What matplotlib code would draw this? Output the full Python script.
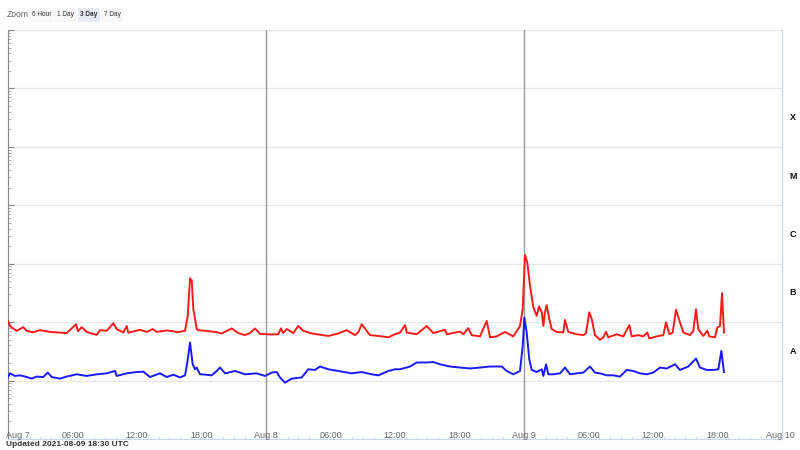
import matplotlib
matplotlib.use("Agg")
import matplotlib.pyplot as plt
from matplotlib.patches import FancyBboxPatch
import numpy as np

plt.rcParams['font.family'] = ['Liberation Sans', 'DejaVu Sans']

# Hours since 2021-08-07 00:00 UTC
red_hours = [0.0, 0.19, 0.81, 1.42, 1.74, 2.33, 2.98, 3.91, 5.46, 6.33, 6.51, 6.86, 7.32, 8.25, 8.56,
             9.18, 9.8, 10.11, 10.73, 11.04, 11.19, 12.28, 12.9, 13.46, 13.83, 14.76, 15.38, 15.69,
             16.47, 16.72, 16.93, 17.09, 17.24, 17.4, 17.55, 17.7, 19.26, 19.88, 20.81, 21.42, 22.05,
             22.51, 22.98, 23.44, 24.53, 25.12, 25.4, 25.58, 25.93, 26.54, 27.0, 27.47, 28.25, 29.8,
             30.72, 31.51, 32.28, 32.59, 32.9, 33.67, 34.45, 35.38, 36.0, 36.47, 36.93, 37.09, 38.02,
             38.95, 39.56, 40.65, 40.81, 42.05, 42.35, 42.82, 43.13, 43.91, 44.53, 44.84, 45.46, 46.23,
             47.0, 47.63, 47.88, 48.09, 48.3, 48.56, 48.87, 49.18, 49.4, 49.65, 49.8, 49.95, 50.11,
             50.35, 50.58, 51.04, 51.66, 51.81, 52.12, 52.9, 53.52, 53.77, 54.07, 54.3, 54.6, 55.07,
             55.38, 55.63, 55.84, 56.62, 57.24, 57.8, 58.02, 58.63, 59.1, 59.47, 59.66, 60.34, 60.96,
             61.21, 61.52, 61.83, 62.14, 62.51, 62.82, 63.44, 63.75, 64.0, 64.21, 64.68, 65.05, 65.24,
             65.77, 65.98, 66.23, 66.42, 66.6]
red_flux = [1.04e-7, 8.5e-8, 7.1e-8, 8.2e-8, 7.1e-8, 6.7e-8, 7.3e-8, 6.8e-8, 6.5e-8, 9.2e-8, 7.0e-8, 8.2e-8,
            6.8e-8, 6.05e-8, 7.3e-8, 7.1e-8, 9.6e-8, 7.6e-8, 6.65e-8, 8.6e-8, 6.6e-8, 7.4e-8, 6.8e-8,
            7.6e-8, 6.8e-8, 7.2e-8, 7.0e-8, 6.7e-8, 7.1e-8, 1.28e-7, 5.6e-7, 5.2e-7, 1.67e-7, 1.13e-7,
            7.6e-8, 7.3e-8, 6.8e-8, 6.4e-8, 7.8e-8, 6.5e-8, 6.0e-8, 6.5e-8, 7.8e-8, 6.3e-8, 6.15e-8,
            6.2e-8, 7.8e-8, 6.5e-8, 7.6e-8, 6.5e-8, 8.6e-8, 7.1e-8, 6.4e-8, 5.8e-8, 6.4e-8, 7.3e-8,
            6.0e-8, 6.7e-8, 9.2e-8, 6.0e-8, 5.8e-8, 5.5e-8, 6.2e-8, 6.65e-8, 8.9e-8, 6.65e-8, 6.2e-8,
            8.6e-8, 6.5e-8, 7.4e-8, 6.2e-8, 6.9e-8, 6.2e-8, 7.9e-8, 6.0e-8, 5.7e-8, 1.05e-7, 5.5e-8,
            5.7e-8, 6.8e-8, 5.7e-8, 8.6e-8, 1.67e-7, 1.41e-6, 1.06e-6, 4.2e-7, 1.79e-7, 1.28e-7,
            1.86e-7, 1.47e-7, 8.6e-8, 1.47e-7, 1.96e-7, 1.13e-7, 7.6e-8, 6.8e-8, 6.65e-8, 1.09e-7,
            6.8e-8, 6.2e-8, 6.0e-8, 6.5e-8, 1.47e-7, 1.13e-7, 6.0e-8, 5.0e-8, 5.5e-8, 6.8e-8, 5.5e-8,
            6.2e-8, 5.7e-8, 8.9e-8, 5.7e-8, 6.0e-8, 5.7e-8, 6.65e-8, 5.25e-8, 5.7e-8, 6.0e-8, 9.9e-8,
            6.2e-8, 6.65e-8, 1.63e-7, 9.9e-8, 6.65e-8, 6.0e-8, 7.1e-8, 1.67e-7, 7.6e-8, 5.8e-8,
            7.1e-8, 5.7e-8, 5.5e-8, 8.1e-8, 8.6e-8, 3.14e-7, 6.65e-8]

blue_hours = [0.0, 0.19, 0.65, 1.12, 1.74, 2.2, 2.67, 3.28, 3.69, 4.07, 4.84, 5.46, 6.39, 7.32, 8.25,
              9.18, 9.95, 10.11, 11.04, 11.97, 12.59, 13.21, 14.14, 14.76, 15.38, 16.0, 16.47, 16.68,
              16.93, 17.18, 17.4, 17.55, 17.86, 18.02, 18.95, 19.41, 19.72, 20.19, 21.12, 22.05, 23.13,
              23.91, 24.53, 25.0, 25.3, 25.77, 26.39, 27.32, 27.93, 28.56, 29.02, 29.8, 30.72, 31.97,
              32.9, 33.83, 34.45, 35.38, 36.0, 36.47, 37.4, 38.02, 38.95, 39.56, 40.19, 41.12, 42.05,
              42.98, 43.91, 44.84, 45.93, 46.39, 47.0, 47.63, 47.88, 48.03, 48.25, 48.49, 48.72, 49.18,
              49.65, 49.8, 50.05, 50.26, 50.72, 51.35, 51.81, 52.28, 52.9, 53.52, 54.14, 54.6, 55.07,
              55.69, 56.31, 56.93, 57.55, 58.17, 58.79, 59.41, 60.03, 60.65, 61.27, 62.05, 62.51, 63.28,
              64.0, 64.37, 64.99, 65.61, 66.08, 66.36, 66.6]
blue_flux = [1.15e-8, 1.33e-8, 1.2e-8, 1.23e-8, 1.15e-8, 1.08e-8, 1.17e-8, 1.15e-8, 1.37e-8, 1.15e-8,
             1.08e-8, 1.17e-8, 1.28e-8, 1.2e-8, 1.28e-8, 1.33e-8, 1.46e-8, 1.2e-8, 1.33e-8, 1.4e-8,
             1.42e-8, 1.15e-8, 1.33e-8, 1.15e-8, 1.26e-8, 1.13e-8, 1.23e-8, 2.04e-8, 4.49e-8, 1.9e-8,
             1.56e-8, 1.67e-8, 1.28e-8, 1.28e-8, 1.23e-8, 1.46e-8, 1.67e-8, 1.33e-8, 1.46e-8, 1.28e-8,
             1.33e-8, 1.2e-8, 1.37e-8, 1.4e-8, 1.13e-8, 9.2e-9, 1.08e-8, 1.13e-8, 1.56e-8, 1.52e-8,
             1.74e-8, 1.56e-8, 1.46e-8, 1.33e-8, 1.4e-8, 1.28e-8, 1.23e-8, 1.46e-8, 1.56e-8, 1.56e-8,
             1.74e-8, 2.04e-8, 2.04e-8, 2.08e-8, 1.9e-8, 1.74e-8, 1.67e-8, 1.61e-8, 1.67e-8, 1.74e-8,
             1.74e-8, 1.46e-8, 1.28e-8, 1.46e-8, 3.92e-8, 1.2e-7, 6.65e-8, 2.32e-8, 1.52e-8, 1.4e-8,
             1.56e-8, 1.2e-8, 1.9e-8, 1.28e-8, 1.28e-8, 1.33e-8, 1.67e-8, 1.28e-8, 1.33e-8, 1.37e-8,
             1.74e-8, 1.37e-8, 1.33e-8, 1.23e-8, 1.23e-8, 1.17e-8, 1.52e-8, 1.46e-8, 1.33e-8, 1.28e-8,
             1.37e-8, 1.67e-8, 1.61e-8, 1.9e-8, 1.52e-8, 1.74e-8, 2.38e-8, 1.67e-8, 1.52e-8, 1.52e-8,
             1.56e-8, 3.22e-8, 1.4e-8]

tick_hours = [0, 6, 12, 18, 24, 30, 36, 42, 48, 54, 60, 66, 72]
tick_labels = ["Aug 7", "06:00", "12:00", "18:00", "Aug 8", "06:00", "12:00", "18:00",
               "Aug 9", "06:00", "12:00", "18:00", "Aug 10"]
day_lines = [24, 48]
class_labels = ["A", "B", "C", "M", "X"]
class_lower = [1e-8, 1e-7, 1e-6, 1e-5, 1e-4]
zoom_buttons = ["6 Hour", "1 Day", "3 Day", "7 Day"]
updated_text = "Updated 2021-08-09 18:30 UTC"

W, H = 800, 450
fig = plt.figure(figsize=(W / 100, H / 100), dpi=100)
fig.patch.set_facecolor("white")
L, R, T, B = 8, 782, 30, 439
ax = fig.add_axes([L / W, 1 - B / H, (R - L) / W, (B - T) / H])
ax.set_yscale("log")
ax.set_ylim(1e-9, 1e-2)
ax.set_xlim(0, 72)

# grid
for e in range(-8, -1):
    ax.axhline(10.0 ** e, color="#e6e6e6", lw=0.9, zorder=0)
for d in day_lines:
    ax.axvline(d, color="#999999", lw=1.0, zorder=1)

ax.plot(red_hours, red_flux, color="#ff1a1a", lw=1.4, zorder=3, solid_joinstyle="round")
ax.plot(blue_hours, blue_flux, color="#1a1aff", lw=1.4, zorder=3, solid_joinstyle="round")

# spines
ax.spines["top"].set_visible(False)
ax.spines["left"].set_color("#888888")
ax.spines["left"].set_linewidth(0.8)
ax.spines["right"].set_color("#ccd6eb")
ax.spines["right"].set_linewidth(0.8)
ax.spines["bottom"].set_color("#ccd6eb")
ax.spines["bottom"].set_linewidth(0.8)

ax.tick_params(axis="y", which="major", direction="in", length=4, color="#888888", labelleft=False)
ax.tick_params(axis="y", which="minor", direction="in", length=2.5, color="#aaaaaa", labelleft=False)
ax.set_xticks(np.arange(0, 73, 1), minor=True)
ax.set_xticks(tick_hours)
ax.set_xticklabels([])
ax.tick_params(axis="x", which="major", length=0)
ax.tick_params(axis="x", which="minor", direction="in", length=2, color="#ccd6eb")

# x labels inside the plot
for h, lab in zip(tick_hours, tick_labels):
    ha = "center"
    dx = 0
    if h == 0:
        ha = "left"
        dx = -1.5
    elif h == 72:
        dx = -1
    ax.annotate(lab, xy=(h, 0), xycoords=("data", "axes fraction"), xytext=(dx, -0.5),
                textcoords="offset points", ha=ha, va="bottom", fontsize=6.5, color="#666666",
                annotation_clip=False)

# class labels on right
for lab, lo in zip(class_labels, class_lower):
    ax.annotate(lab, xy=(1, lo * 10 ** 0.5), xycoords=("axes fraction", "data"), xytext=(5.5, 0),
                textcoords="offset points", ha="left", va="center", fontsize=6.5,
                fontweight="bold", color="#111111", annotation_clip=False)

# updated text
fig.text(6 / W, 1 - 445 / H, updated_text, fontsize=6, fontweight="bold", color="#333333",
         ha="left", va="center")

# zoom buttons
fig.text(7 / W, 1 - 14.5 / H, "Zoom", fontsize=6.2, color="#666666", ha="left", va="center")
bx = [31, 54, 78, 101]
for i, (x0, lab) in enumerate(zip(bx, zoom_buttons)):
    sel = lab == "3 Day"
    rect = FancyBboxPatch((x0 / W, 1 - 22 / H), 22 / W, 14 / H, boxstyle="square,pad=0",
                          transform=fig.transFigure, facecolor="#e6ebf5" if sel else "#f7f7f7",
                          edgecolor="none")
    fig.patches.append(rect)
    fig.text((x0 + 11) / W, 1 - 14 / H, lab, fontsize=4.7, color="#333333", ha="center", va="center",
             fontweight="bold" if sel else "normal")

fig.savefig("out.png", dpi=100, facecolor="white")
